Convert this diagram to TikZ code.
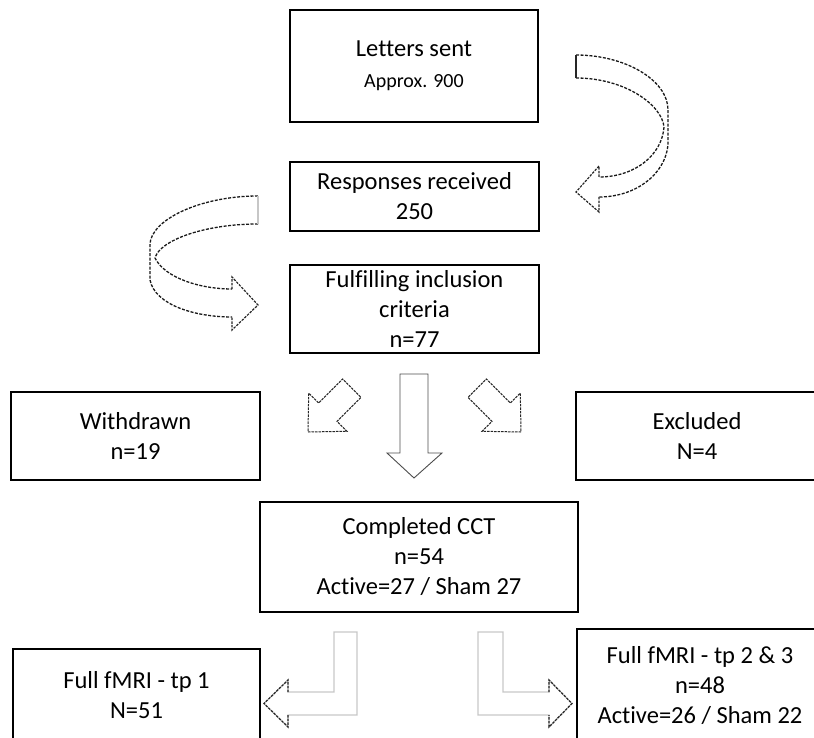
\documentclass[tikz,border=0pt]{standalone}
\usepackage{fontspec}
\setmainfont{Carlito}[Ligatures=NoCommon]
\begin{document}
\begin{tikzpicture}[x=1pt,y=-1pt,
  box/.style={draw=black, line width=1.9pt, fill=white, align=center, inner sep=0pt,
              font=\fontsize{24.5}{30}\selectfont},
  band/.style={draw=black!90, line width=1.3pt, dash pattern=on 3pt off 1.5pt, line join=round},
  tailline/.style={draw=black!85, line width=1.5pt},
  blk/.style={draw=black!70, line width=0.9pt, line join=miter},
  diag/.style={draw=black!85, line width=1pt, dash pattern=on 2.5pt off 1pt},
  pale/.style={draw=black!22, line width=1.3pt},
  headline/.style={draw=black!85, line width=1.2pt, dash pattern=on 2.5pt off 1.2pt}]
\useasboundingbox (0,0) rectangle (814,738);
\clip (0,0) rectangle (814,738);

% boxes
\node[box, minimum width=248pt, minimum height=112pt] (letters) at (414,66)
  {Letters sent\\[1pt]{\fontsize{20}{24}\selectfont Approx. 900}};
\node[box, minimum width=249pt, minimum height=69pt] (resp) at (414.5,196.5)
  {Responses received\\250};
\node[box, minimum width=249pt, minimum height=88pt] (incl) at (414.5,309)
  {Fulfilling inclusion\\criteria\\n=77};
\node[box, minimum width=249pt, minimum height=88pt] (withdrawn) at (135.5,436)
  {Withdrawn\\n=19};
\node[box, minimum width=242pt, minimum height=88pt] (excluded) at (697,436)
  {Excluded\\N=4};
\node[box, minimum width=318pt, minimum height=110pt] (cct) at (419,557)
  {Completed CCT\\n=54\\Active=27 / Sham 27};
\node[box, minimum width=247pt, minimum height=92pt] (tp1) at (136.5,695)
  {Full fMRI - tp 1\\N=51};
\node[box, minimum width=246pt, minimum height=114pt] (tp23) at (700,686)
  {Full fMRI - tp 2 \& 3\\n=48\\Active=26 / Sham 22};

% curved arrow: letters -> responses (right side)
\draw[band] (576,55) .. controls (625,55) and (668,80) .. (668,110)
  -- (668,145) .. controls (665,175) and (635,197) .. (599,197);
\draw[band] (576,78) .. controls (625,78) and (662,105) .. (664,127)
  .. controls (662,155) and (635,177) .. (599,177);
\draw[headline] (599,177) -- (599,166) -- (576,192) -- (599,212) -- (599,197);
\draw[tailline] (576,55) -- (576,78);

% curved arrow: responses -> inclusion (left side)
\draw[band] (258,196) .. controls (200,196) and (150,220) .. (150,245)
  -- (150,280) .. controls (155,305) and (195,317) .. (232,317);
\draw[band] (258,224) .. controls (205,224) and (160,240) .. (155,258)
  .. controls (165,278) and (200,289) .. (232,289);
\draw[headline] (232,289) -- (232,277) -- (258,305) -- (232,330) -- (232,317);
\draw[pale] (258,196) -- (258,224);

% down arrow: inclusion -> CCT
\draw[blk] (400,374) -- (428,374) -- (428,453) -- (442,453) -- (414,478)
  -- (387,453) -- (400,453) -- cycle;

% diagonal arrows
\draw[diag] (308,432) -- (346.9,431.3) -- (337.0,421.4) -- (361.0,397.4)
  -- (342.7,379.0) -- (318.6,403.0) -- (308.7,393.1) -- cycle;
\draw[diag] (521,432) -- (482.1,431.3) -- (492.0,421.4) -- (468.0,397.4)
  -- (486.3,379.0) -- (510.4,403.0) -- (520.3,393.1) -- cycle;

% bent arrows
\draw[pale] (334,632) -- (357,632) -- (357,715) -- (288,715) -- (288,727)
  -- (264,703.5) -- (288,680) -- (288,692) -- (334,692) -- cycle;
\draw[headline] (288,715) -- (288,727) -- (264,703.5) -- (288,680) -- (288,692);
\draw[pale] (478,632) -- (503,632) -- (503,692) -- (549,692) -- (549,680)
  -- (572,703.5) -- (549,727) -- (549,715) -- (478,715) -- cycle;
\draw[headline] (549,692) -- (549,680) -- (572,703.5) -- (549,727) -- (549,715);
\end{tikzpicture}
\end{document}
